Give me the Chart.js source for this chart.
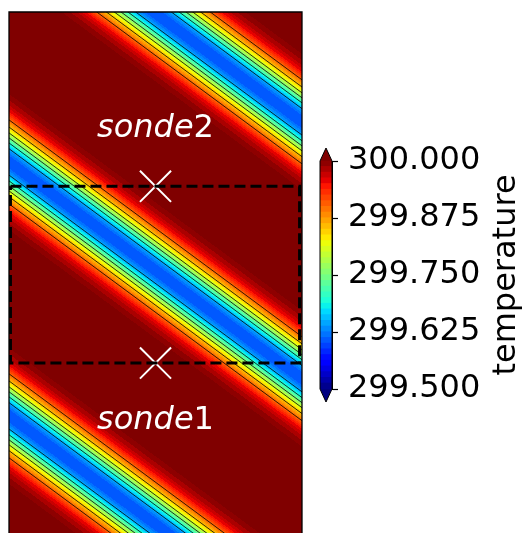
<!DOCTYPE html>
<html>
<head>
<meta charset="utf-8">
<script src="https://cdn.jsdelivr.net/npm/chart.js@4.4.0/dist/chart.umd.min.js"></script>
<style>
html, body { margin: 0; padding: 0; background: #fff; }
#wrap { position: relative; width: 523px; height: 533px; }
#main { position: absolute; left: 0; top: 0; }
#cbar { position: absolute; left: 300px; top: 0; }
</style>
</head>
<body>
<div id="wrap">
<canvas id="main" width="523" height="533"></canvas>
<canvas id="cbar" width="223" height="533"></canvas>
</div>
<script>
// domain (m)
var xRange = [0, 3000];
var yRange = [0, 5335];

// diagonal cold bands: centre height at x=0 and slope
var bandCentre = [6430, 3800, 1200];
var bandSlope = -0.74;

// temperature across a band (vertical distance from its centre)
var profileDist = [0, 61, 123, 184, 246, 307, 369, 430, 512, 594, 696];
var profileTemp = [299.60, 299.61, 299.64, 299.69, 299.75, 299.81, 299.86, 299.90, 299.95, 299.98, 300.00];

// black contour lines
var contourLevels = [299.65, 299.70, 299.75, 299.80, 299.85, 299.90];
var contourDist = [135, 194, 246, 297, 357, 430];

// sondes
var sondeNames = ['1', '2'];
var sondeX = [1500, 1500];
var sondeY = [1740, 3550];
var sondeLabelY = [1065, 4055];
var boxX = [15, 2975];
var boxY = [1740, 3550];

// colour bar
var cbarTicks = [299.5, 299.625, 299.75, 299.875, 300.0];
var tMin = 299.5, tMax = 300.0, nLevels = 40;

var jetR = [[0, 0], [0.35, 0], [0.66, 1], [0.89, 1], [1, 0.5]];
var jetG = [[0, 0], [0.125, 0], [0.375, 1], [0.64, 1], [0.91, 0], [1, 0]];
var jetB = [[0, 0.5], [0.11, 1], [0.34, 1], [0.65, 0], [1, 0]];
function seg(pts, v) {
  for (var i = 1; i < pts.length; i++) {
    if (v <= pts[i][0]) {
      var a = pts[i - 1], b = pts[i];
      return a[1] + (b[1] - a[1]) * (v - a[0]) / (b[0] - a[0]);
    }
  }
  return pts[pts.length - 1][1];
}
function jet(v) {
  v = Math.max(0, Math.min(1, v));
  return [Math.round(255 * seg(jetR, v)), Math.round(255 * seg(jetG, v)), Math.round(255 * seg(jetB, v))];
}
function rgb(c) { return 'rgb(' + c[0] + ',' + c[1] + ',' + c[2] + ')'; }

var step = (tMax - tMin) / nLevels;
function levelColour(T) {
  if (T >= tMax - 1e-9) return jet(1);
  if (T < tMin) return jet(0);
  var k = Math.floor((T - tMin) / step);
  return jet((k + 0.5) / nLevels);
}
function profile(d) {
  if (d >= profileDist[profileDist.length - 1]) return profileTemp[profileTemp.length - 1];
  for (var i = 1; i < profileDist.length; i++) {
    if (d <= profileDist[i]) {
      var f = (d - profileDist[i - 1]) / (profileDist[i] - profileDist[i - 1]);
      return profileTemp[i - 1] + f * (profileTemp[i] - profileTemp[i - 1]);
    }
  }
}
function tempAt(x, y) {
  var T = tMax;
  for (var b = 0; b < bandCentre.length; b++) {
    var d = Math.abs(y - (bandCentre[b] + bandSlope * x));
    T = Math.min(T, profile(d));
  }
  return T;
}

// contour line segments
var contourPts = [];
bandCentre.forEach(function (c) {
  contourDist.forEach(function (dist) {
    [-1, 1].forEach(function (s) {
      contourPts.push({ x: xRange[0], y: c + s * dist + bandSlope * xRange[0] });
      contourPts.push({ x: xRange[1], y: c + s * dist + bandSlope * xRange[1] });
      contourPts.push({ x: xRange[1], y: null });
    });
  });
});

var boxPts = [
  { x: boxX[0], y: boxY[1] }, { x: boxX[1], y: boxY[1] },
  { x: boxX[1], y: boxY[0] }, { x: boxX[0], y: boxY[0] },
  { x: boxX[0], y: boxY[1] }
];
var sondePts = sondeX.map(function (x, i) { return { x: x, y: sondeY[i] }; });

var heatPlugin = {
  id: 'heat',
  beforeDatasetsDraw: function (chart) {
    var a = chart.chartArea, xs = chart.scales.x, ys = chart.scales.y;
    var w = Math.round(a.right - a.left), h = Math.round(a.bottom - a.top);
    var off = document.createElement('canvas');
    off.width = w; off.height = h;
    var octx = off.getContext('2d');
    var img = octx.createImageData(w, h);
    for (var j = 0; j < h; j++) {
      var dy = ys.getValueForPixel(a.top + j + 0.5);
      for (var i = 0; i < w; i++) {
        var dx = xs.getValueForPixel(a.left + i + 0.5);
        var c = levelColour(tempAt(dx, dy));
        var p = (j * w + i) * 4;
        img.data[p] = c[0]; img.data[p + 1] = c[1]; img.data[p + 2] = c[2]; img.data[p + 3] = 255;
      }
    }
    octx.putImageData(img, 0, 0);
    chart.ctx.drawImage(off, a.left, a.top);
  },
  afterDatasetsDraw: function (chart) {
    var ctx = chart.ctx, xs = chart.scales.x, ys = chart.scales.y;
    ctx.save();
    ctx.fillStyle = '#fff';
    ctx.textBaseline = 'alphabetic';
    ctx.textAlign = 'left';
    sondeNames.forEach(function (n, i) {
      ctx.font = 'italic 32px "DejaVu Sans"';
      var w1 = ctx.measureText('sonde').width;
      ctx.font = '32px "DejaVu Sans"';
      var w2 = ctx.measureText(n).width;
      var cx = xs.getPixelForValue(sondeX[i]);
      var by = ys.getPixelForValue(sondeLabelY[i]);
      var x0 = cx - (w1 + w2) / 2;
      ctx.font = 'italic 32px "DejaVu Sans"';
      ctx.fillText('sonde', x0, by);
      ctx.font = '32px "DejaVu Sans"';
      ctx.fillText(n, x0 + w1, by);
    });
    ctx.restore();
  },
  afterDraw: function (chart) {
    var a = chart.chartArea, ctx = chart.ctx;
    ctx.save();
    ctx.strokeStyle = '#000';
    ctx.lineWidth = 1.3;
    ctx.beginPath();
    ctx.moveTo(a.left, a.bottom + 2);
    ctx.lineTo(a.left, a.top);
    ctx.lineTo(a.right, a.top);
    ctx.lineTo(a.right, a.bottom + 2);
    ctx.stroke();
    ctx.restore();
  }
};

new Chart(document.getElementById('main'), {
  type: 'scatter',
  data: {
    datasets: [
      {
        type: 'line', data: contourPts, borderColor: '#000', borderWidth: 0.8,
        pointRadius: 0, spanGaps: false, tension: 0
      },
      {
        type: 'line', data: boxPts, borderColor: '#000', borderWidth: 3,
        borderDash: [11, 5], pointRadius: 0, tension: 0
      },
      {
        data: sondePts, pointStyle: 'crossRot', pointRadius: 22,
        borderColor: '#fff', backgroundColor: '#fff', borderWidth: 2
      }
    ]
  },
  options: {
    responsive: false,
    animation: false,
    layout: { autoPadding: false, padding: { left: 9, top: 12, right: 221, bottom: 0 } },
    plugins: { legend: { display: false }, tooltip: { enabled: false } },
    scales: {
      x: { type: 'linear', display: false, min: xRange[0], max: xRange[1] },
      y: { type: 'linear', display: false, min: yRange[0], max: yRange[1] }
    }
  },
  plugins: [heatPlugin]
});

// colour bar as floating bars
var cbarSets = [];
for (var k = 0; k < nLevels; k++) {
  var lo = tMin + k * step;
  cbarSets.push({
    data: [[lo, lo + step * 1.05]],
    backgroundColor: rgb(jet((k + 0.5) / nLevels)),
    borderWidth: 0,
    grouped: false,
    barPercentage: 1,
    categoryPercentage: 1
  });
}

var cbarPlugin = {
  id: 'cbarExtras',
  afterDraw: function (chart) {
    var a = chart.chartArea, ctx = chart.ctx;
    var mid = (a.left + a.right) / 2;
    ctx.save();
    ctx.fillStyle = rgb(jet(1));
    ctx.beginPath();
    ctx.moveTo(a.left, a.top); ctx.lineTo(mid, a.top - 13); ctx.lineTo(a.right, a.top); ctx.closePath();
    ctx.fill();
    ctx.fillStyle = rgb(jet(0));
    ctx.beginPath();
    ctx.moveTo(a.left, a.bottom); ctx.lineTo(mid, a.bottom + 13); ctx.lineTo(a.right, a.bottom); ctx.closePath();
    ctx.fill();
    ctx.strokeStyle = '#000';
    ctx.lineWidth = 1;
    ctx.beginPath();
    ctx.moveTo(a.left, a.top); ctx.lineTo(mid, a.top - 13); ctx.lineTo(a.right, a.top);
    ctx.lineTo(a.right, a.bottom); ctx.lineTo(mid, a.bottom + 13); ctx.lineTo(a.left, a.bottom);
    ctx.closePath();
    ctx.stroke();
    // label
    ctx.translate(215, (a.top + a.bottom) / 2);
    ctx.rotate(-Math.PI / 2);
    ctx.fillStyle = '#000';
    ctx.font = '32px "DejaVu Sans"';
    ctx.textAlign = 'center';
    ctx.textBaseline = 'alphabetic';
    ctx.fillText('temperature', 0, 0);
    ctx.restore();
  }
};

new Chart(document.getElementById('cbar'), {
  type: 'bar',
  data: { labels: ['T'], datasets: cbarSets },
  options: {
    responsive: false,
    animation: false,
    layout: { autoPadding: false, padding: { left: 20, top: 161, bottom: 144, right: 0 } },
    plugins: { legend: { display: false }, tooltip: { enabled: false } },
    scales: {
      x: { display: false },
      y: {
        position: 'right',
        min: tMin,
        max: tMax,
        afterFit: function (s) { s.width = 191; },
        afterBuildTicks: function (s) { s.ticks = cbarTicks.map(function (v) { return { value: v }; }); },
        ticks: {
          color: '#000',
          padding: 10,
          font: { family: 'DejaVu Sans', size: 32 },
          callback: function (v) { return Number(v).toFixed(3); }
        },
        grid: { drawOnChartArea: false, tickLength: 6, tickColor: '#000', tickWidth: 1.2 },
        border: { display: true, color: '#000' }
      }
    }
  },
  plugins: [cbarPlugin]
});
</script>
</body>
</html>
